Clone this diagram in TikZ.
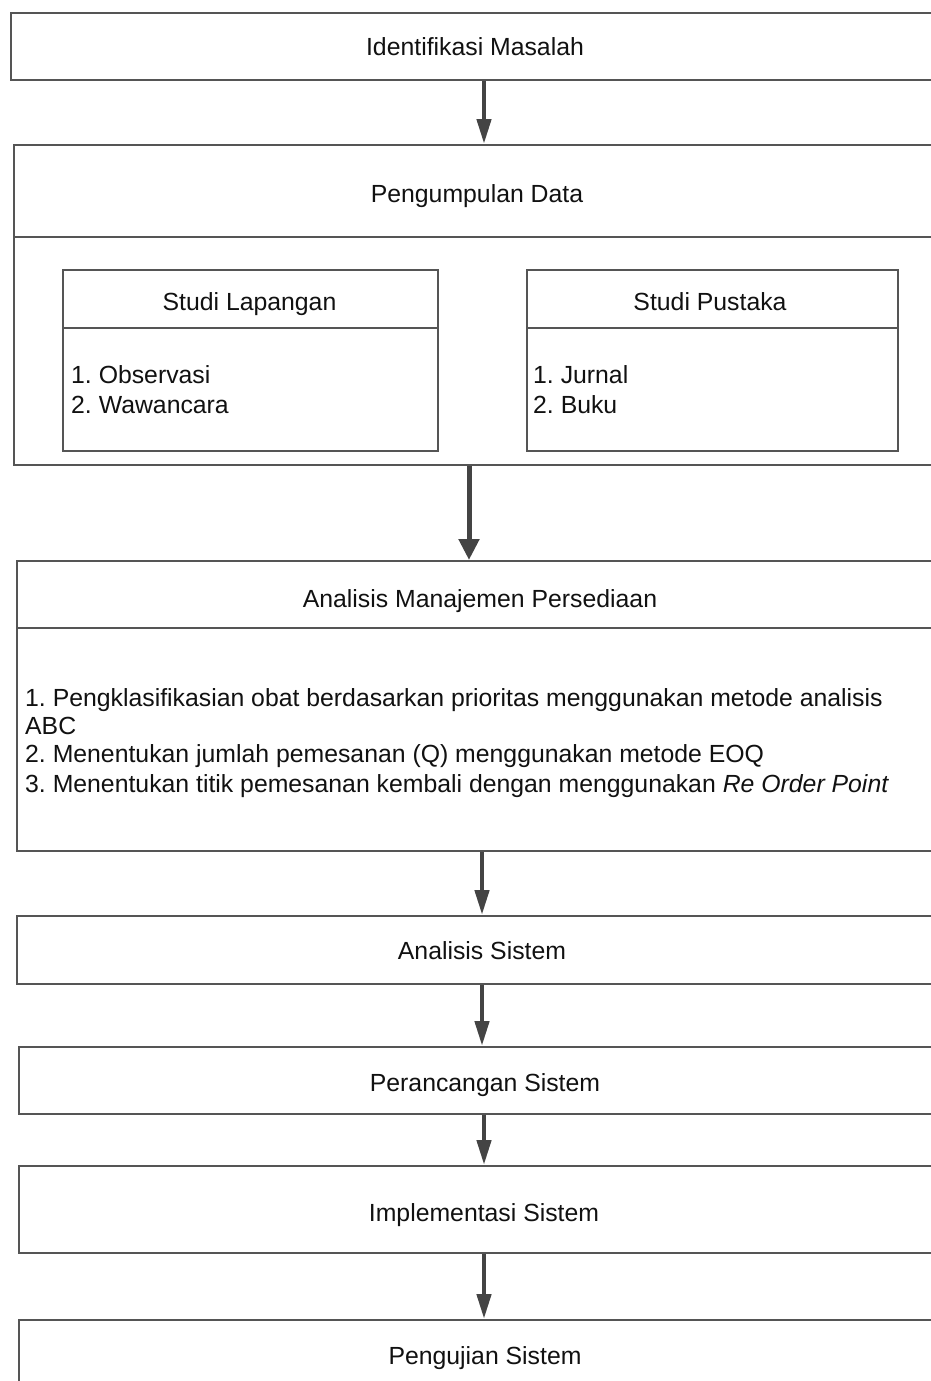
\documentclass[tikz,border=0pt]{standalone}
\usepackage{fontspec}
\setmainfont{Liberation Sans}
\usetikzlibrary{arrows.meta}
\definecolor{edgegray}{HTML}{555555}
\definecolor{arrgray}{HTML}{444444}
\definecolor{txt}{HTML}{111111}
\frenchspacing
\begin{document}
\begin{tikzpicture}[x=1pt,y=-1pt,
  boxstyle/.style={draw=edgegray, line width=1.8pt, rectangle, inner sep=0pt, anchor=north west},
  titlestyle/.style={anchor=base, inner sep=0pt, text=txt, font=\fontsize{24.8}{29}\selectfont},
  itemstyle/.style={anchor=base west, inner sep=0pt, text=txt, font=\fontsize{24.8}{29}\selectfont},
  flow/.style={draw=arrgray, line width=4.5pt, -{Triangle[length=25pt,width=14pt]}},
  flowbig/.style={draw=arrgray, line width=5pt, -{Triangle[length=21pt,width=20pt]}}
]
\useasboundingbox (0,0) rectangle (931,1381);
\clip (0,0) rectangle (931,1381);

% boxes
\node[boxstyle, minimum width=930pt, minimum height=67pt] (b1) at (10,12) {};
\node[boxstyle, minimum width=928pt, minimum height=320pt] (b2) at (13,144) {};
\node[boxstyle, minimum width=375pt, minimum height=181pt] (sl) at (62,269) {};
\node[boxstyle, minimum width=371pt, minimum height=181pt] (sp) at (526,269) {};
\node[boxstyle, minimum width=928pt, minimum height=290pt] (b3) at (16,560) {};
\node[boxstyle, minimum width=932pt, minimum height=68pt] (b4) at (16,915) {};
\node[boxstyle, minimum width=934pt, minimum height=67pt] (b5) at (18,1046) {};
\node[boxstyle, minimum width=932pt, minimum height=87pt] (b6) at (18,1165) {};
\node[boxstyle, minimum width=934pt, minimum height=120pt] (b7) at (18,1319) {};

% dividers
\draw[edgegray, line width=1.8pt] (b2.west |- 0,237) -- (b2.east |- 0,237);
\draw[edgegray, line width=1.8pt] (sl.west |- 0,328) -- (sl.east |- 0,328);
\draw[edgegray, line width=1.8pt] (sp.west |- 0,328) -- (sp.east |- 0,328);
\draw[edgegray, line width=1.8pt] (b3.west |- 0,628) -- (b3.east |- 0,628);

% titles
\node[titlestyle] (t1) at (475,56) {Identifikasi Masalah};
\node[titlestyle] (t2) at (477,202) {Pengumpulan Data};
\node[titlestyle] (tsl) at (249.5,310) {Studi Lapangan};
\node[titlestyle] (tsp) at (710,310) {Studi Pustaka};
\node[titlestyle] (t3) at (480,607) {Analisis Manajemen Persediaan};
\node[titlestyle] (t4) at (482,959) {Analisis Sistem};
\node[titlestyle] (t5) at (485,1091) {Perancangan Sistem};
\node[titlestyle] (t6) at (484,1221) {Implementasi Sistem};
\node[titlestyle] (t7) at (485,1364) {Pengujian Sistem};

% lists
\node[itemstyle] (sl1) at (71,383) {1. Observasi};
\node[itemstyle] (sl2) at (71,413) {2. Wawancara};
\node[itemstyle] (sp1) at (533,383) {1. Jurnal};
\node[itemstyle] (sp2) at (533,413) {2. Buku};
\node[itemstyle] (m1) at (25,706) {1. Pengklasifikasian obat berdasarkan prioritas menggunakan metode analisis};
\node[itemstyle] (m1b) at (25,734) {ABC};
\node[itemstyle] (m2) at (25,762) {2. Menentukan jumlah pemesanan (Q) menggunakan metode EOQ};
\node[itemstyle] (m3) at (25,792) {3. Menentukan titik pemesanan kembali dengan menggunakan \textit{Re Order Point}};

% arrow x positions
\coordinate (x1) at (484,0);
\coordinate (x2) at (469,0);
\coordinate (x3) at (482,0);
\coordinate (x5) at (484,0);

% connectors
\draw[flow] (b1.south -| x1) -- (b2.north -| x1);
\draw[flowbig] (b2.south -| x2) -- (b3.north -| x2);
\draw[flow] (b3.south -| x3) -- (b4.north -| x3);
\draw[flow] (b4.south -| x3) -- (b5.north -| x3);
\draw[flow] (b5.south -| x5) -- (b6.north -| x5);
\draw[flow] (b6.south -| x5) -- (b7.north -| x5);
\end{tikzpicture}
\end{document}
